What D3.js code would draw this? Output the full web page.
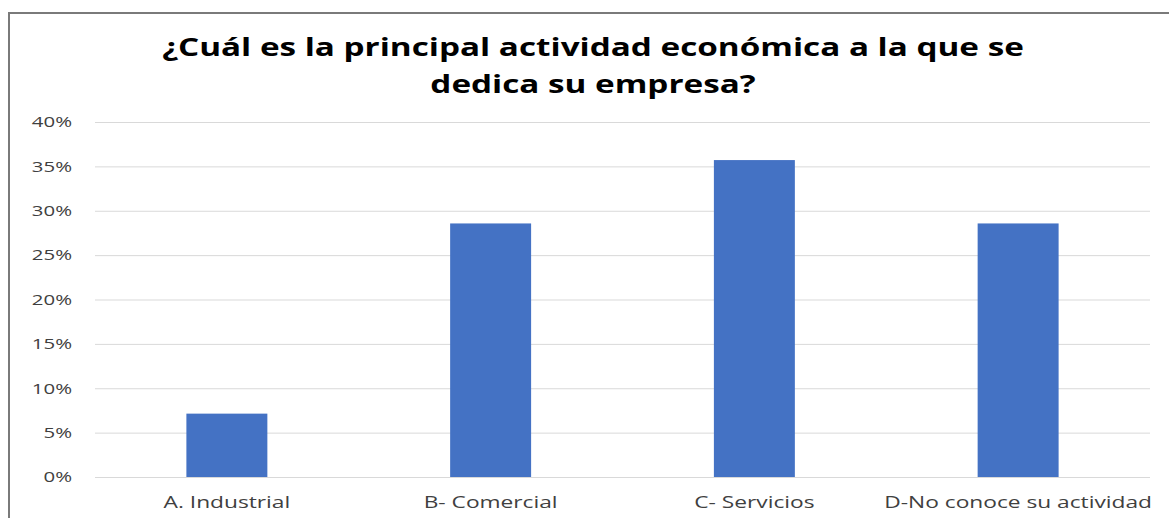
<!DOCTYPE html>
<html>
<head>
<meta charset="utf-8">
<script src="https://cdn.jsdelivr.net/npm/d3@7"></script>
<style>
  html, body { margin: 0; padding: 0; background: #fff; }
  svg { display: block; }
</style>
</head>
<body>
<svg id="chart" width="1169" height="518"></svg>
<script>
// Survey results: main economic activity of the company
const categories = ["A. Industrial", "B- Comercial", "C- Servicios", "D-No conoce su actividad"];
const shares = [0.0714, 0.2857, 0.3571, 0.2857];
const yTicks = [0, 0.05, 0.10, 0.15, 0.20, 0.25, 0.30, 0.35, 0.40];
const titleLines = ["¿Cuál es la principal actividad económica a la que se", "dedica su empresa?"];

const W = 1169, H = 518;
const svg = d3.select("#chart");
const plot = { left: 95, right: 1150, top: 122, bottom: 477 };

// widen glyphs horizontally, keeping the anchor point in place
function widen(sel, factor) {
  sel.each(function () {
    const w = this.getComputedTextLength();
    d3.select(this)
      .attr("textLength", w * factor)
      .attr("lengthAdjust", "spacingAndGlyphs");
  });
}

svg.append("rect").attr("width", W).attr("height", H).attr("fill", "#fff");

// frame: only the top and left edges fall inside the view
svg.append("path")
  .attr("d", `M9,${H} V13 H${W}`)
  .attr("fill", "none")
  .attr("stroke", "#7a7a7a")
  .attr("stroke-width", 2);

const x = d3.scaleBand()
  .domain(categories)
  .range([plot.left, plot.right])
  .paddingInner(0.693)
  .paddingOuter(0.3465);

const y = d3.scaleLinear()
  .domain([0, 0.40])
  .range([plot.bottom, plot.top]);

// gridlines + value axis labels
const yAxis = d3.axisLeft(y)
  .tickValues(yTicks)
  .tickFormat(d3.format(".0%"))
  .tickSize(-(plot.right - plot.left))
  .tickPadding(23);

const gy = svg.append("g")
  .attr("transform", `translate(${plot.left},0)`)
  .call(yAxis);
gy.select(".domain").remove();
gy.selectAll(".tick line").attr("stroke", "#d9d9d9").attr("stroke-width", 1);
gy.selectAll(".tick text")
  .attr("fill", "#404040")
  .attr("font-family", "'Open Sans', sans-serif")
  .attr("font-size", 15)
  .call(widen, 1.36);

// bars
svg.append("g").selectAll("rect")
  .data(categories.map((c, i) => ({ c, v: shares[i] })))
  .join("rect")
  .attr("x", d => x(d.c))
  .attr("y", d => y(d.v))
  .attr("width", x.bandwidth())
  .attr("height", d => y(0) - y(d.v))
  .attr("fill", "#4472c4");

// category axis labels
const xAxis = d3.axisBottom(x).tickSize(0).tickPadding(20);
const gx = svg.append("g")
  .attr("transform", `translate(0,${plot.bottom})`)
  .call(xAxis);
gx.select(".domain").remove();
gx.selectAll(".tick text")
  .attr("fill", "#404040")
  .attr("font-family", "'Open Sans', sans-serif")
  .attr("font-size", 16)
  .call(widen, 1.42);

// title
const title = svg.append("g")
  .attr("font-family", "'Open Sans', sans-serif")
  .attr("font-weight", "bold")
  .attr("font-size", 25)
  .attr("fill", "#000")
  .attr("text-anchor", "middle");
title.selectAll("text")
  .data(titleLines)
  .join("text")
  .attr("x", 593)
  .attr("y", (d, i) => 56 + i * 37)
  .text(d => d)
  .call(widen, 1.33);
</script>
</body>
</html>
